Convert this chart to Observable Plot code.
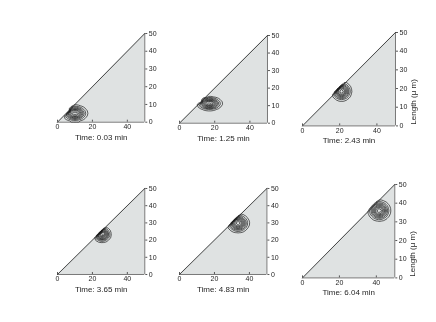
<!DOCTYPE html>
<html><head><meta charset="utf-8">
<script src="https://cdn.jsdelivr.net/npm/d3@7"></script>
<script src="https://cdn.jsdelivr.net/npm/@observablehq/plot@0.6"></script>
<style>
body{margin:0;background:#fff;}
#chart{position:relative;width:436px;height:322px;overflow:hidden;font-family:"Liberation Sans",Arial,sans-serif;}
#chart svg{position:absolute;opacity:0.999;will-change:transform;}
</style></head><body><div id="chart"></div>
<script>
// Data
const times = ["0.03", "1.25", "2.43", "3.65", "4.83", "6.04"];
const peakX = [10, 17, 21, 25.5, 33.5, 41.6];
const peakY = [5, 11.2, 18.5, 23.3, 29.8, 36];
const reachX = [7.3, 7.4, 5.5, 5.3, 6.5, 6.2];   // half-width of outermost contour
const reachY = [4.7, 4.0, 5.3, 4.7, 5.6, 5.7];   // half-height of outermost contour
const levels = [0.1, 0.2, 0.3, 0.4, 0.5, 0.6, 0.7, 0.8, 0.9];
const xTicks = [0, 20, 40];
const yTicks = [0, 10, 20, 30, 40, 50];
const lengthDomain = [0, 50];
const yLabel = "Length (μ m)";

// layout: plot-area left, top, width, height in page pixels
const frames = [
  [56.7, 33.0, 87.3, 88.7],
  [179.3, 35.0, 88.0, 87.7],
  [301.7, 32.3, 93.0, 93.4],
  [56.7, 188.3, 87.3, 86.0],
  [179.3, 188.3, 87.4, 86.0],
  [301.7, 184.3, 92.3, 93.4]
];
const withLabel = [false, false, true, false, false, true];

const font = "'Liberation Sans', Arial, Helvetica, sans-serif";
const chart = document.getElementById("chart");
const outerLevel = levels[0];

times.forEach((t, i) => {
  const [fx, fy, W, H] = frames[i];
  const ml = 12, mr = 40, mt = 8, mb = 30;
  const sx = reachX[i] / Math.sqrt(-2 * Math.log(outerLevel));
  const sy = reachY[i] / Math.sqrt(-2 * Math.log(outerLevel));
  const cx = peakX[i], cy = peakY[i];
  const marks = [
    Plot.areaY(lengthDomain, {x: d => d, y1: lengthDomain[0], y2: d => d, fill: "#dfe2e2"}),
    Plot.contour({
      x1: lengthDomain[0], x2: lengthDomain[1], y1: lengthDomain[0], y2: lengthDomain[1],
      value: (x, y) => y <= x ? Math.exp(-((x - cx) ** 2) / (2 * sx * sx) - ((y - cy) ** 2) / (2 * sy * sy)) : 0,
      thresholds: levels, pixelSize: 2.5,
      fill: "none", stroke: "#000", strokeWidth: 0.6
    }),
    Plot.ruleY([lengthDomain[0]], {stroke: "#555", strokeWidth: 0.8}),
    Plot.ruleX([lengthDomain[1]], {stroke: "#555", strokeWidth: 0.8}),
    Plot.line(lengthDomain, {x: d => d, y: d => d, stroke: "#222", strokeWidth: 0.8}),
    Plot.axisX(xTicks, {anchor: "bottom", tickSize: -2, tickPadding: 4, label: null, stroke: "#555", fontSize: 7}),
    Plot.axisY(yTicks, {anchor: "right", tickSize: 2, tickPadding: 2, label: null, stroke: "#555", fontSize: 7}),
    Plot.text([`Time: ${t} min`], {frameAnchor: "bottom", dy: 17.5, fontSize: 8, fill: "#262626"})
  ];
  if (withLabel[i]) {
    marks.push(Plot.text([yLabel], {frameAnchor: "right", rotate: -90, dx: 17.5, fontSize: 8, fill: "#262626"}));
  }
  const svg = Plot.plot({
    width: W + ml + mr, height: H + mt + mb,
    marginLeft: ml, marginRight: mr, marginTop: mt, marginBottom: mb,
    x: {domain: lengthDomain},
    y: {domain: lengthDomain},
    style: {fontFamily: font, fontSize: "7px", color: "#262626", background: "transparent", overflow: "visible"},
    marks
  });
  svg.style.left = (fx - ml) + "px";
  svg.style.top = (fy - mt) + "px";
  chart.appendChild(svg);
});
</script></body></html>
